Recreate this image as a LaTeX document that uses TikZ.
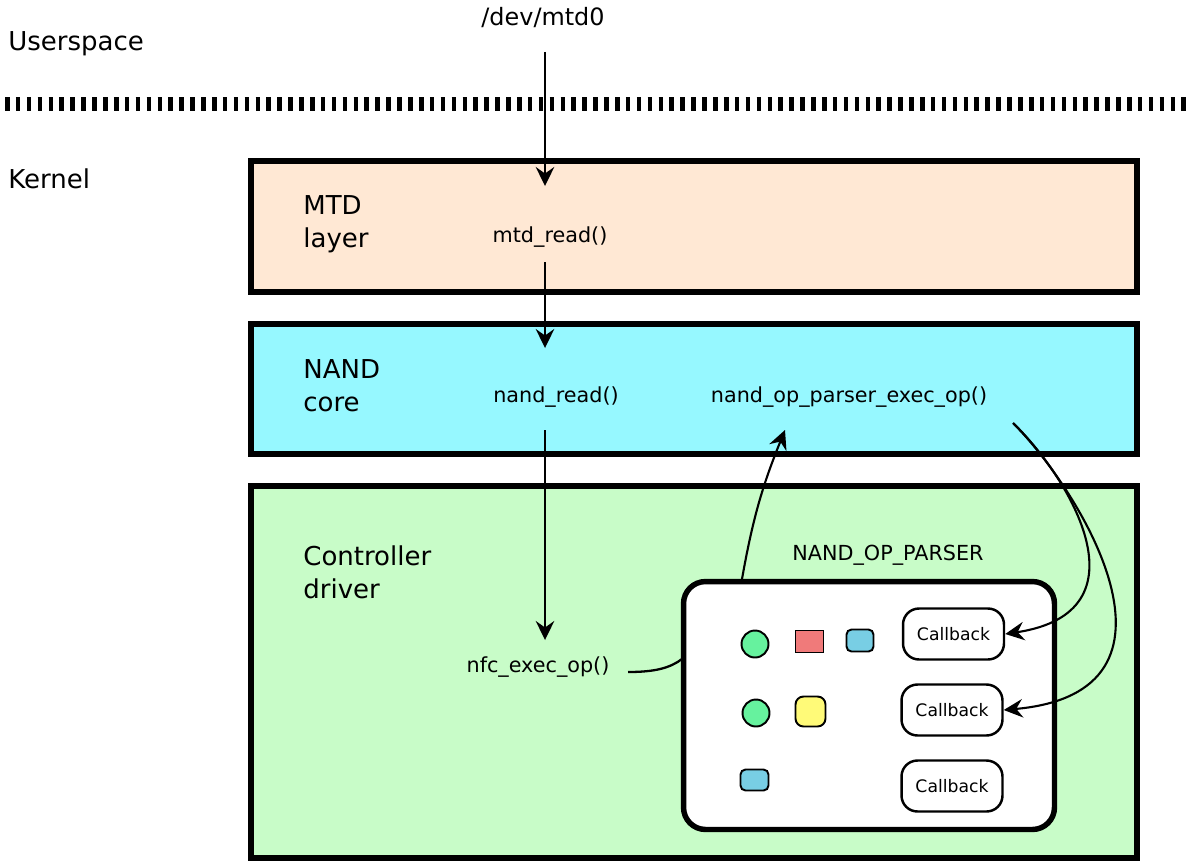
\documentclass[tikz,border=0pt]{standalone}
\usepackage{fontspec}
\setmainfont{DejaVu Sans}
\usetikzlibrary{arrows.meta}
\definecolor{mtdfill}{HTML}{FFE8D4}
\definecolor{nandfill}{HTML}{96F8FF}
\definecolor{ctrlfill}{HTML}{C8FCC8}
\definecolor{tokgreen}{HTML}{66F29E}
\definecolor{tokred}{HTML}{F07A7A}
\definecolor{tokblue}{HTML}{78CEE4}
\definecolor{tokyellow}{HTML}{FFFA78}
\begin{document}
\begin{tikzpicture}[x=0.02cm,y=-0.02cm,
  big/.style={font=\fontsize{14.8}{18.7}\selectfont, align=left, anchor=west, inner sep=0pt},
  small/.style={font=\fontsize{11.8}{14}\selectfont, inner sep=0pt},
  layerbox/.style={draw, line width=3.1pt, minimum width=17.72cm, inner sep=0pt},
  arr/.style={line width=1.2pt, -{Stealth[length=0.38cm,width=0.37cm,inset=0.13cm]}},
  cbbox/.style={draw, line width=1.4pt, rounded corners=0.32cm, minimum width=2.02cm, minimum height=1.02cm, inner sep=0pt, fill=white, font=\fontsize{9.8}{12}\selectfont},
  token/.style={draw, line width=1.1pt, inner sep=0pt}
]
\useasboundingbox (0,0) rectangle (1200,863);

% separator
\node[big] (user) at (8,44) {Userspace};
\node[big] (kernel) at (8,179) {Kernel};
\node[font=\fontsize{13.6}{16}\selectfont, inner sep=0pt] (dev) at (543,18) {/dev/mtd0};
\draw[line width=7.9pt, dash pattern=on 2.6pt off 3.6pt] (5,104) -- (1190,104);

% layers
\node[layerbox, fill=mtdfill, minimum height=2.62cm] (mtdbox) at (694,226.5) {};
\node[layerbox, fill=nandfill, minimum height=2.6cm] (nandbox) at (694,389) {};
\node[layerbox, fill=ctrlfill, minimum height=7.44cm] (ctrlbox) at (694,672) {};

\node[big] (mtdlbl) at (303,224) {MTD\\layer};
\node[big] (nandlbl) at (303,386) {NAND\\core};
\node[big] (ctrllbl) at (303,572) {Controller\\driver};

\node[small] (mtdread) at (550,237) {mtd\_read()};
\node[small] (nandread) at (556,397) {nand\_read()};
\node[small] (eop) at (849,397) {nand\_op\_parser\_exec\_op()};
\node[small] (parserlbl) at (888,555) {NAND\_OP\_PARSER};
\node[small] (nfc) at (538,667) {nfc\_exec\_op()};

% parser box
\node[draw, line width=3.1pt, fill=white, rounded corners=0.44cm, minimum width=7.42cm, minimum height=4.96cm, inner sep=0pt] (pbox) at (869,705.5) {};

\node[cbbox] (cb1) at (953.5,634) {Callback};
\node[cbbox] (cb2) at (952,710) {Callback};
\node[cbbox] (cb3) at (952,786) {Callback};

% tokens
\node[token, circle, fill=tokgreen, minimum size=0.54cm] (g1) at (755,644) {};
\node[token, rectangle, fill=tokred, minimum width=0.56cm, minimum height=0.44cm] (r1) at (809.5,641.5) {};
\node[token, rectangle, rounded corners=0.1cm, fill=tokblue, minimum width=0.54cm, minimum height=0.44cm] (b1) at (860,640.5) {};
\node[token, circle, fill=tokgreen, minimum size=0.54cm] (g2) at (756,713) {};
\node[token, rectangle, rounded corners=0.16cm, fill=tokyellow, minimum width=0.6cm, minimum height=0.6cm] (y2) at (810.5,711.5) {};
\node[token, rectangle, rounded corners=0.1cm, fill=tokblue, minimum width=0.56cm, minimum height=0.42cm] (b3) at (754.5,780) {};

% connectors
\coordinate (col) at (545,0);
\draw[arr, shorten <=0.68cm, shorten >=1.02cm] (col |- dev) -- (col |- mtdread);
\draw[arr, shorten <=0.5cm, shorten >=0.98cm] (col |- mtdread) -- (col |- nandread);
\draw[arr, shorten <=0.66cm, shorten >=0.54cm] (col |- nandread) -- (col |- nfc);

\coordinate (nfcout) at (628,672);
\coordinate (pin) at (682,659);
\draw[line width=1.3pt] (nfcout) .. controls (655,672) and (670,668) .. (pin);

\coordinate (pstart) at (742,579);
\coordinate (ptip) at (785,430);
\draw[arr] (pstart) to[bend left=6] (ptip);

\coordinate (cstart) at (1013,423);
\draw[arr] (cstart) .. controls (1070,478) and (1150,612) .. (cb1.east);
\draw[arr] (cstart) .. controls (1080,490) and (1205,692) .. (cb2.east);
\end{tikzpicture}
\end{document}
